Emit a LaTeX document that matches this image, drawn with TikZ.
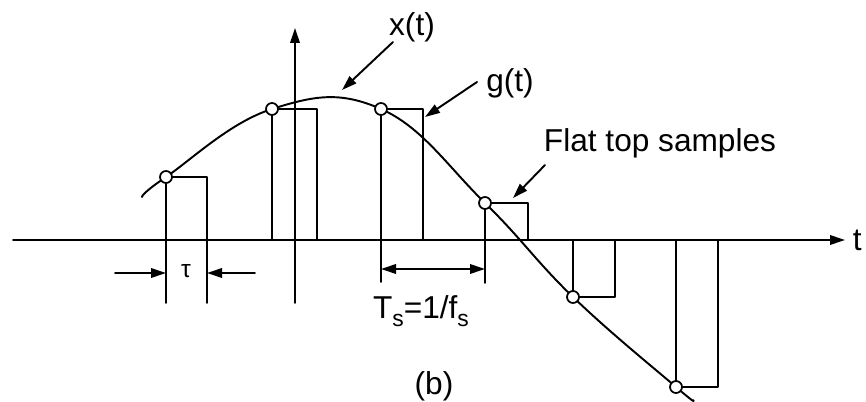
\documentclass[tikz,border=0pt]{standalone}
\usepackage{fontspec}
\setmainfont{Liberation Sans}
\usetikzlibrary{arrows.meta}
\newcommand{\lowsub}[1]{\raisebox{-0.45ex}{\fontsize{13}{13}\selectfont #1}}
\tikzset{
  ptr/.style={-{Triangle[length=3mm,width=1.9mm]}},
  dptr/.style={{Triangle[length=3mm,width=1.9mm]}-{Triangle[length=3mm,width=1.9mm]}},
  smp/.style={circle, draw, fill=white, inner sep=0pt, minimum size=2.4mm, line width=1pt},
  lbl/.style={font=\fontsize{18}{20}\selectfont, inner sep=0pt}
}
\begin{document}
\begin{tikzpicture}[x=0.2mm, y=-0.2mm, line width=1.1pt, line join=round, line cap=round]
  \useasboundingbox (0,0) rectangle (866,402);

  \coordinate (L) at (13,240);
  \coordinate (R) at (845,240);
  \coordinate (B) at (295,303);
  \coordinate (T) at (295,28);

  \coordinate (A1) at (166,177);
  \coordinate (A2) at (272,109);
  \coordinate (A3) at (381,109);
  \coordinate (A4) at (485,203);
  \coordinate (A5) at (573,297);
  \coordinate (A6) at (676,387);

  \draw[ptr] (L)--(R);
  \draw[ptr] (B)--(T);

  \draw (166,303)--(A1)--(207,177)--(207,303);
  \draw (272,240)--(A2)--(317,109)--(317,240);
  \draw (381,282)--(A3)--(423,109)--(423,240);
  \draw (485,283)--(A4)--(528,203)--(528,240);
  \draw (573,240)--(A5)--(615,297)--(615,240);
  \draw (676,240)--(A6)--(718,387)--(718,240);

  \draw plot[smooth, tension=0.7] coordinates {(142,197) (A1) (A2) (A3) (A4) (A5) (A6) (693,400)};

  \node[smp] (s1) at (A1) {};
  \node[smp] (s2) at (A2) {};
  \node[smp] (s3) at (A3) {};
  \node[smp] (s4) at (A4) {};
  \node[smp] (s5) at (A5) {};
  \node[smp] (s6) at (A6) {};

  \coordinate (ta) at (115,273);
  \coordinate (tb) at (166,273);
  \coordinate (tc) at (207,273);
  \coordinate (td) at (255,273);
  \draw[ptr] (ta)--(tb);
  \draw[ptr] (td)--(tc);
  \node[font=\fontsize{14}{16}\selectfont, inner sep=0pt] (tau) at (186,271) {τ};

  \coordinate (ts1) at (381,269);
  \coordinate (ts2) at (485,269);
  \draw[dptr] (ts1)--(ts2);
  \node[lbl] (ts) at (421,311) {T\lowsub{s}=1/f\lowsub{s}};

  \node[lbl] (xt) at (412,27) {x(t)};
  \coordinate (xa) at (393,42);
  \coordinate (xb) at (342,90);
  \draw[ptr] (xa)--(xb);

  \node[lbl] (gt) at (510,83) {g(t)};
  \coordinate (ga) at (477,82);
  \coordinate (gb) at (425,117);
  \draw[ptr] (ga)--(gb);

  \node[lbl] (fts) at (660,143) {Flat top samples};
  \coordinate (fa) at (545,165);
  \coordinate (fb) at (513,198);
  \draw[ptr] (fa)--(fb);

  \node[lbl, anchor=west] (t) at (852,240) {t};
  \node[lbl] (b) at (434,386) {(b)};
\end{tikzpicture}
\end{document}
